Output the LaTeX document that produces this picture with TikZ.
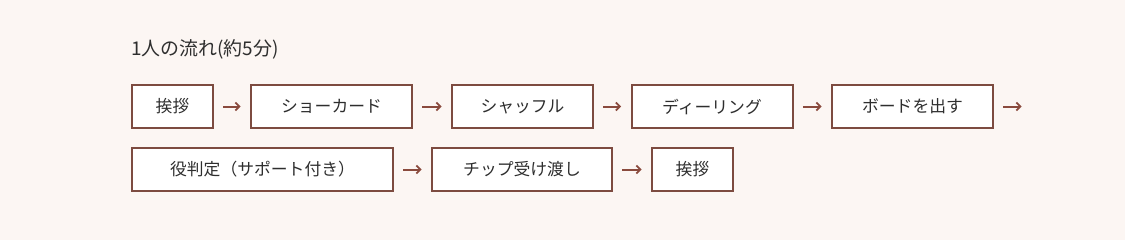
\documentclass[tikz,border=0pt]{standalone}
\usepackage{fontspec}
\setmainfont{Noto Sans CJK JP}
\usetikzlibrary{arrows.meta}
\definecolor{bg}{HTML}{FCF6F3}
\definecolor{frame}{HTML}{7D4B40}
\definecolor{arrowc}{HTML}{8A4A3D}
\definecolor{ink}{HTML}{2E2E2E}
\begin{document}
\begin{tikzpicture}[x=0.75pt,y=-0.75pt,
  stepbox/.style={draw=frame,fill=white,line width=1.5pt,minimum height=32.25pt,
    inner sep=0pt,text=ink,font=\fontsize{12.6pt}{15pt}\selectfont},
  flow/.style={draw=arrowc,line width=1.5pt,shorten <=7.1pt,shorten >=7.1pt,
    -{Straight Barb[length=3pt,width=6pt,line width=1.3pt]}},
  titletext/.style={text=ink,font=\fontsize{14.2pt}{17pt}\selectfont,inner sep=0pt,anchor=west}]
\fill[bg] (0,0) rectangle (1125,240);
\useasboundingbox (0,0) rectangle (1125,240);
\node[titletext] (title) at (131,49) {1人の流れ(約5分)};
% row 1
\node[stepbox,minimum width=60.75pt] (b1) at (172.5,106.5) {挨拶};
\node[stepbox,minimum width=120.75pt] (b2) at (331.5,106.5) {ショーカード};
\node[stepbox,minimum width=105.75pt] (b3) at (522.5,106.5) {シャッフル};
\node[stepbox,minimum width=120.75pt] (b4) at (712,106.5) {ディーリング};
\node[stepbox,minimum width=120.75pt] (b5) at (912.5,106.5) {ボードを出す};
\coordinate (e5) at (1031,106.5);
% row 2
\node[stepbox,minimum width=195.75pt] (c1) at (262.5,169.5) {役判定（サポート付き）};
\node[stepbox,minimum width=135pt] (c2) at (522,169.5) {チップ受け渡し};
\node[stepbox,minimum width=60.75pt] (c3) at (692.5,169.5) {挨拶};
% arrows
\draw[flow] (b1) -- (b2);
\draw[flow] (b2) -- (b3);
\draw[flow] (b3) -- (b4);
\draw[flow] (b4) -- (b5);
\draw[flow] (b5) -- (e5);
\draw[flow] (c1) -- (c2);
\draw[flow] (c2) -- (c3);
\end{tikzpicture}
\end{document}
